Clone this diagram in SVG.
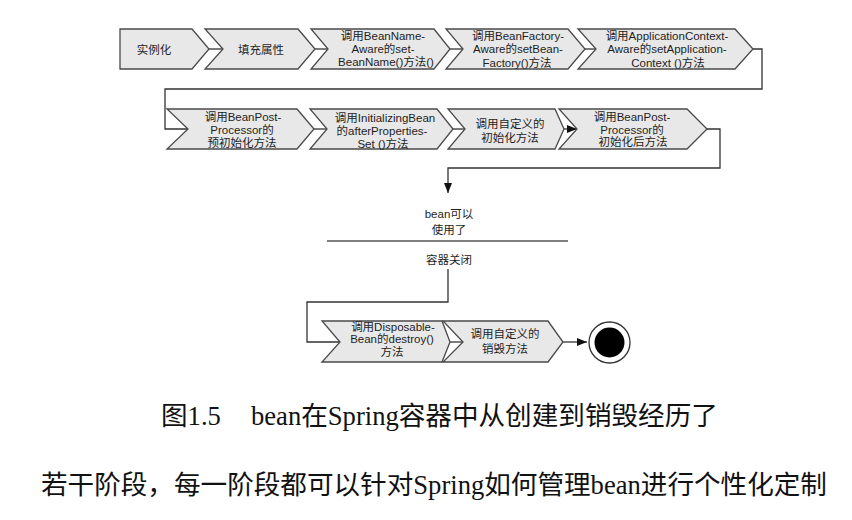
<svg xmlns="http://www.w3.org/2000/svg" width="852" height="520" viewBox="0 0 852 520">
<defs>
<style>
.ch{fill:#e8e8e8;stroke:#4a4a4a;stroke-width:1.3;stroke-linejoin:miter}
.t{font-family:"Liberation Sans","Noto Sans CJK SC",sans-serif;font-size:11.5px;fill:#1e1e1e;text-anchor:middle;dominant-baseline:central}
.ln{fill:none;stroke:#333;stroke-width:1.3}
.cap{font-family:"Liberation Serif","Noto Sans CJK SC",serif;font-size:26.6px;fill:#111}
</style>
<marker id="ah" viewBox="0 0 10 8" refX="10" refY="4" markerWidth="10" markerHeight="8" markerUnits="userSpaceOnUse" orient="auto">
<path d="M0,0 L10,4 L0,8 z" fill="#111"/>
</marker>
</defs>
<rect width="852" height="520" fill="#fff"/>

<g id="connectors">
<polyline class="ln" points="753,49 762,49 762,89 165,89 165,129 188,129"/>
<line class="ln" x1="209" y1="49" x2="223" y2="49"/>
<line class="ln" x1="315" y1="49" x2="328" y2="49"/>
<line class="ln" x1="450" y1="49" x2="463" y2="49"/>
<line class="ln" x1="585" y1="49" x2="596" y2="49"/>
<line class="ln" x1="314" y1="129" x2="327" y2="129"/>
<line class="ln" x1="453" y1="129" x2="465" y2="129"/>
<line class="ln" x1="564" y1="129" x2="577" y2="129" marker-end="url(#ah)"/>
<polyline class="ln" points="707,129 720,129 720,168 448,168 448,193" marker-end="url(#ah)"/>
<polyline class="ln" points="448,269 448,302 307,302 307,342 340,342"/>
<line class="ln" x1="450" y1="342" x2="463" y2="342"/>
<line class="ln" x1="563" y1="342" x2="587" y2="342" marker-end="url(#ah)"/>
</g>

<g id="n1"><polygon class="ch" points="120,29 192,29 209,49 192,69 120,69"/><text class="t" x="154" y="50">实例化</text></g>
<g id="n2"><polygon class="ch" points="205,29 298,29 315,49 298,69 205,69 223,49"/><text class="t" x="261" y="50">填充属性</text></g>
<g id="n3"><polygon class="ch" points="311,29 434,29 450,49 434,69 311,69 328,49"/>
<text class="t" x="383" y="36">调用BeanName-</text><text class="t" x="383" y="49">Aware的set-</text><text class="t" x="386" y="62">BeanName()方法()</text></g>
<g id="n4"><polygon class="ch" points="446,29 568,29 585,49 568,69 446,69 463,49"/>
<text class="t" x="518" y="35.5">调用BeanFactory-</text><text class="t" x="518" y="49">Aware的setBean-</text><text class="t" x="517" y="62.5">Factory()方法</text></g>
<g id="n5"><polygon class="ch" points="578,29 735,29 753,49 735,69 578,69 596,49"/>
<text class="t" x="667" y="35.5">调用ApplicationContext-</text><text class="t" x="667" y="49">Aware的setApplication-</text><text class="t" x="668" y="62.5">Context ()方法</text></g>

<g id="n6"><polygon class="ch" points="167,109 297,109 314,129 297,149 167,149 188,129"/>
<text class="t" x="243" y="117">调用BeanPost-</text><text class="t" x="242" y="130">Processor的</text><text class="t" x="242" y="143">预初始化方法</text></g>
<g id="n7"><polygon class="ch" points="310,109 437,109 453,129 437,149 310,149 327,129"/>
<text class="t" x="385" y="117.5">调用InitializingBean</text><text class="t" x="382" y="130.5">的afterProperties-</text><text class="t" x="383" y="143.5">Set ()方法</text></g>
<g id="n8"><polygon class="ch" points="448,109 555,109 564,129 555,149 448,149 465,129"/>
<text class="t" x="510" y="124">调用自定义的</text><text class="t" x="510" y="137.5">初始化方法</text></g>
<g id="n9"><polygon class="ch" points="559,109 687,109 707,129 687,149 559,149 577,129"/>
<text class="t" x="632" y="117">调用BeanPost-</text><text class="t" x="632" y="129.5">Processor的</text><text class="t" x="633" y="142">初始化后方法</text></g>

<g id="state">
<text class="t" x="449" y="214">bean可以</text><text class="t" x="449" y="230">使用了</text>
<line x1="327" y1="241" x2="568" y2="241" stroke="#555" stroke-width="1.5"/>
<text class="t" x="449" y="260">容器关闭</text>
</g>

<g id="n10"><polygon class="ch" points="322,321 442,321 450,342 442,362 322,362 340,342"/>
<text class="t" x="393" y="326.5">调用Disposable-</text><text class="t" x="392" y="339">Bean的destroy()</text><text class="t" x="392" y="351.5">方法</text></g>
<g id="n11"><polygon class="ch" points="443,321 548,321 563,342 548,362 443,362 463,342"/>
<text class="t" x="505" y="334">调用自定义的</text><text class="t" x="505" y="349">销毁方法</text></g>
<g id="end"><circle cx="609.5" cy="342.5" r="20.5" fill="#fff" stroke="#333" stroke-width="1.3"/><circle cx="609.5" cy="342.5" r="15" fill="#000"/></g>

<text class="cap" x="161" y="425">图1.5</text>
<text class="cap" x="251" y="425">bean在Spring容器中从创建到销毁经历了</text>
<text class="cap" x="41" y="494">若干阶段，每一阶段都可以针对Spring如何管理bean进行个性化定制</text>
</svg>
